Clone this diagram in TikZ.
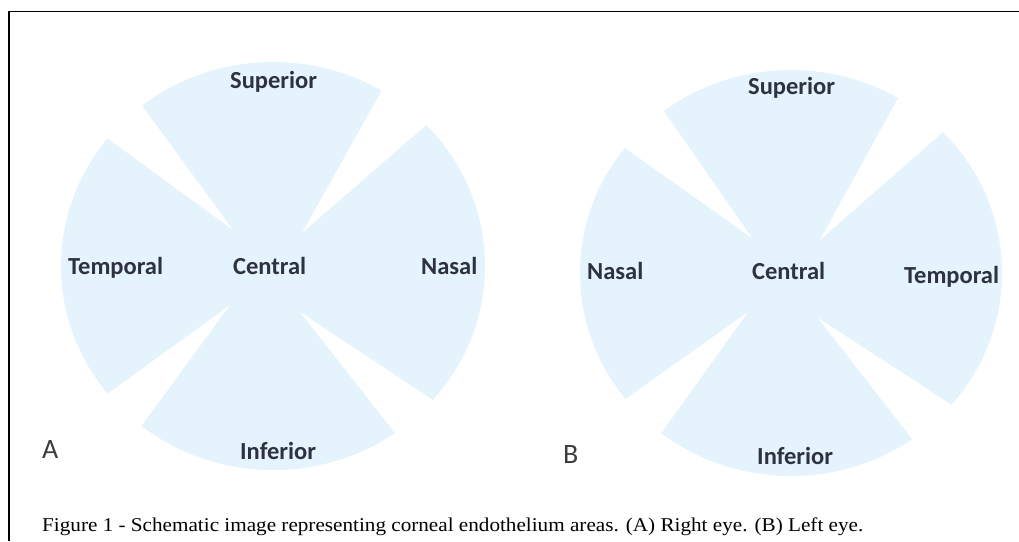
\documentclass[tikz,border=0pt]{standalone}
\usepackage{fontspec}
\usepackage{graphicx}
\setmainfont{Liberation Serif}
\newfontfamily\labfont{Carlito}
\usetikzlibrary{calc}
\definecolor{cornea}{RGB}{228,243,252}
\definecolor{labcol}{RGB}{45,50,62}
\definecolor{lettercol}{RGB}{60,60,60}
\tikzset{
  area/.style={font=\labfont\bfseries\fontsize{24.5}{26}\selectfont, text=labcol, inner sep=0pt, anchor=base west},
  eyeletter/.style={font=\labfont\fontsize{28}{30}\selectfont, text=lettercol, inner sep=0pt, anchor=base west},
  gap/.style={fill=white, draw=none},
  disc/.style={fill=cornea, draw=none}
}
\begin{document}
\begin{tikzpicture}[x=1pt,y=-1pt]
\useasboundingbox (0,0) rectangle (1019,541);
% frame
\draw[line width=1.5pt] (9,541) -- (9,11.5) -- (1019,11.5);

% ---------- Eye A ----------
\fill[disc] (273,266) ellipse [x radius=212, y radius=204];
\coordinate (a1) at (233,230);
\coordinate (a2) at (302,233);
\coordinate (a3) at (230,305);
\coordinate (a4) at (300,312);
\fill[gap] (a1) -- ($(a1)!1.4!(143,107)$) -- ($(a1)!1.4!(107,138)$) -- cycle;
\fill[gap] (a2) -- ($(a2)!1.4!(382,90)$) -- ($(a2)!1.4!(425,126)$) -- cycle;
\fill[gap] (a3) -- ($(a3)!1.4!(110,392)$) -- ($(a3)!1.4!(142,425)$) -- cycle;
\fill[gap] (a4) -- ($(a4)!1.4!(430,398)$) -- ($(a4)!1.4!(395,433)$) -- cycle;
\node[area] (aSup) at (230,88) {Superior};
\node[area] (aTem) at (68,274) {Temporal};
\node[area] (aCen) at (233,274) {Central};
\node[area] (aNas) at (421,274) {Nasal};
\node[area] (aInf) at (240,459) {Inferior};
\node[eyeletter] (aLet) at (42,458) {A};

% ---------- Eye B ----------
\fill[disc] (791,273) ellipse [x radius=211, y radius=203];
\coordinate (b1) at (752,238);
\coordinate (b2) at (820,240);
\coordinate (b3) at (748,312);
\coordinate (b4) at (818,318);
\fill[gap] (b1) -- ($(b1)!1.4!(663,110)$) -- ($(b1)!1.4!(625,148)$) -- cycle;
\fill[gap] (b2) -- ($(b2)!1.4!(898,98)$) -- ($(b2)!1.4!(943,132)$) -- cycle;
\fill[gap] (b3) -- ($(b3)!1.4!(627,398)$) -- ($(b3)!1.4!(662,432)$) -- cycle;
\fill[gap] (b4) -- ($(b4)!1.4!(952,405)$) -- ($(b4)!1.4!(913,440)$) -- cycle;
\node[area] (bSup) at (748,94) {Superior};
\node[area] (bNas) at (587,279) {Nasal};
\node[area] (bCen) at (752,279) {Central};
\node[area] (bTem) at (904,283) {Temporal};
\node[area] (bInf) at (757,464) {Inferior};
\node[eyeletter] (bLet) at (563,463) {B};

% ---------- caption ----------
\node[inner sep=0pt, anchor=base west] (cap) at (42,531)
  {\resizebox{821pt}{\height}{\fontsize{19.5}{21}\selectfont Figure 1 - Schematic image representing corneal endothelium areas. (A) Right eye. (B) Left eye.}};
\end{tikzpicture}
\end{document}
